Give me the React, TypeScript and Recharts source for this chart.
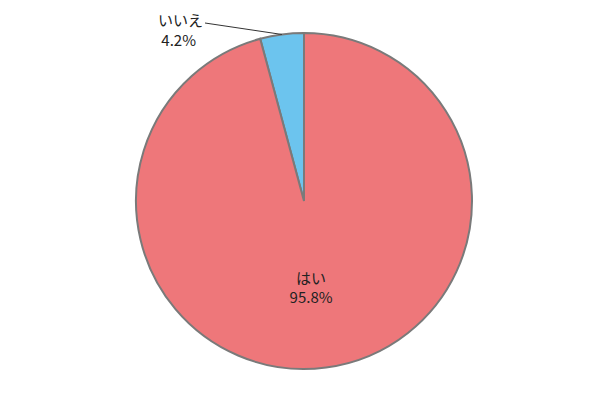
import React from "react";
import { PieChart, Pie, Cell } from "recharts";

const categories = ["いいえ", "はい"];
const values = [4.2, 95.8];
const labels = ["4.2%", "95.8%"];
const colors = ["#6CC4EE", "#EE777A"];

const data = categories.map((name, i) => ({ name, value: values[i], label: labels[i] }));

const RAD = Math.PI / 180;

const renderLabel = (props: any) => {
  const { cx, cy, midAngle, outerRadius, index } = props;
  const font = "'Noto Sans CJK JP', 'Noto Sans', sans-serif";
  if (index === 0) {
    const sx = cx + Math.cos(-midAngle * RAD) * outerRadius;
    const sy = cy + Math.sin(-midAngle * RAD) * outerRadius;
    const ex = cx - 99;
    const ey = cy - 178;
    return (
      <g>
        <line x1={sx} y1={sy} x2={ex} y2={ey} stroke="#333" strokeWidth={1} />
        <text x={ex - 2} y={ey + 3} textAnchor="end" fill="#222" fontSize={15} fontFamily={font}>
          {data[index].name}
        </text>
        <text x={ex - 9} y={ey + 23} textAnchor="end" fill="#222" fontSize={15} fontFamily={font}>
          {data[index].label}
        </text>
      </g>
    );
  }
  const r = outerRadius * 0.5;
  const x = cx + Math.cos(-midAngle * RAD) * r - 4;
  const y = cy + Math.sin(-midAngle * RAD) * r;
  return (
    <g>
      <text x={x} y={y} textAnchor="middle" fill="#222" fontSize={15} fontFamily={font}>
        {data[index].name}
      </text>
      <text x={x} y={y + 19} textAnchor="middle" fill="#222" fontSize={15} fontFamily={font}>
        {data[index].label}
      </text>
    </g>
  );
};

export default function App() {
  return (
    <div style={{ position: "absolute", left: 0, top: 0, width: 610, height: 400, background: "#fff" }}>
      <PieChart width={610} height={400}>
        <Pie
          data={data}
          dataKey="value"
          cx={299}
          cy={196}
          outerRadius={168}
          startAngle={90}
          endAngle={450}
          stroke="#7a7a7a"
          strokeWidth={2}
          label={renderLabel}
          labelLine={false}
          isAnimationActive={false}
        >
          {data.map((d, i) => (
            <Cell key={d.name} fill={colors[i]} />
          ))}
        </Pie>
      </PieChart>
    </div>
  );
}
